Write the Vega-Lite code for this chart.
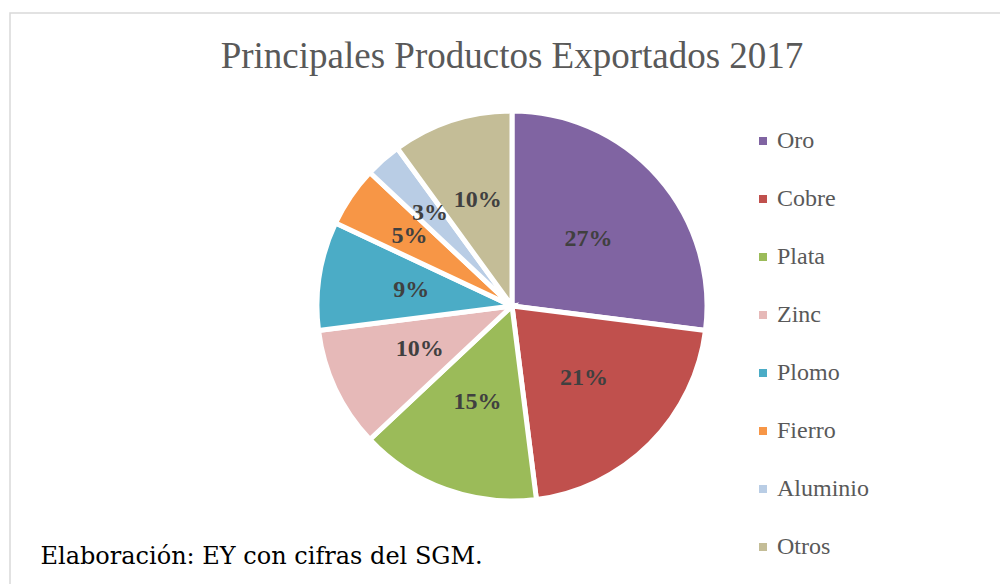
{
  "$schema": "https://vega.github.io/schema/vega-lite/v6.json",
  "width": 1004,
  "height": 586,
  "autosize": {"type": "none"},
  "padding": {"left": 10, "top": 13, "right": 0, "bottom": 0},
  "background": "white",
  "config": {
    "view": {"stroke": "#d9d9d9", "strokeWidth": 1.5},
    "legend": {
      "orient": "none",
      "legendX": 741,
      "legendY": 116,
      "symbolType": "square",
      "symbolSize": 64,
      "symbolStrokeWidth": 0,
      "labelFont": "Liberation Serif",
      "labelFontSize": 24,
      "labelColor": "#595959",
      "labelOffset": 2,
      "rowPadding": 34,
      "title": null
    }
  },
  "title": {
    "text": "Principales Productos Exportados 2017",
    "font": "Liberation Serif",
    "fontSize": 37,
    "fontWeight": "normal",
    "color": "#595959",
    "anchor": "middle",
    "baseline": "alphabetic",
    "offset": -55,
    "dy": 37
  },
  "data": {
    "values": [
      {"idx": 1, "producto": "Oro", "value": 27, "label": "27%"},
      {"idx": 2, "producto": "Cobre", "value": 21, "label": "21%"},
      {"idx": 3, "producto": "Plata", "value": 15, "label": "15%"},
      {"idx": 4, "producto": "Zinc", "value": 10, "label": "10%"},
      {"idx": 5, "producto": "Plomo", "value": 9, "label": "9%"},
      {"idx": 6, "producto": "Fierro", "value": 5, "label": "5%"},
      {"idx": 7, "producto": "Aluminio", "value": 3, "label": "3%"},
      {"idx": 8, "producto": "Otros", "value": 10, "label": "10%"}
    ]
  },
  "layer": [
    {
      "mark": {"type": "arc", "outerRadius": 195, "stroke": "white", "strokeWidth": 5},
      "encoding": {
        "theta": {"field": "value", "type": "quantitative", "stack": true},
        "order": {"field": "idx", "type": "quantitative"},
        "color": {
          "field": "producto",
          "type": "nominal",
          "sort": null,
          "scale": {
            "domain": ["Oro", "Cobre", "Plata", "Zinc", "Plomo", "Fierro", "Aluminio", "Otros"],
            "range": ["#8064A2", "#C0504D", "#9BBB59", "#E6B9B8", "#4BACC6", "#F79646", "#B9CDE5", "#C4BD97"]
          }
        }
      }
    },
    {
      "mark": {"type": "text", "radius": 102, "font": "Liberation Serif", "fontSize": 24, "fontWeight": "bold", "fill": "#404040", "align": "center", "baseline": "middle"},
      "encoding": {
        "theta": {"field": "value", "type": "quantitative", "stack": true},
        "order": {"field": "idx", "type": "quantitative"},
        "text": {"condition": {"test": "datum.idx <= 5", "field": "label"}, "value": ""}
      }
    },
    {
      "mark": {"type": "text", "radius": 124, "font": "Liberation Serif", "fontSize": 24, "fontWeight": "bold", "fill": "#404040", "align": "center", "baseline": "middle"},
      "encoding": {
        "theta": {"field": "value", "type": "quantitative", "stack": true},
        "order": {"field": "idx", "type": "quantitative"},
        "text": {"condition": {"test": "datum.idx == 6 || datum.idx == 7", "field": "label"}, "value": ""}
      }
    },
    {
      "mark": {"type": "text", "radius": 111, "font": "Liberation Serif", "fontSize": 24, "fontWeight": "bold", "fill": "#404040", "align": "center", "baseline": "middle"},
      "encoding": {
        "theta": {"field": "value", "type": "quantitative", "stack": true},
        "order": {"field": "idx", "type": "quantitative"},
        "text": {"condition": {"test": "datum.idx == 8", "field": "label"}, "value": ""}
      }
    },
    {
      "data": {"values": [{"note": "n"}]},
      "mark": {"type": "rule", "opacity": 0},
      "encoding": {
        "x": {
          "field": "note",
          "type": "nominal",
          "axis": {
            "title": "Elaboración: EY con cifras del SGM.",
            "titleFont": "DejaVu Serif",
            "titleFontSize": 24,
            "titleFontWeight": "normal",
            "titleColor": "#000000",
            "titleAnchor": "start",
            "titleAlign": "left",
            "titleBaseline": "alphabetic",
            "titleX": 30,
            "titleY": -36,
            "domain": false,
            "ticks": false,
            "labels": false,
            "grid": false
          }
        }
      }
    }
  ]
}
